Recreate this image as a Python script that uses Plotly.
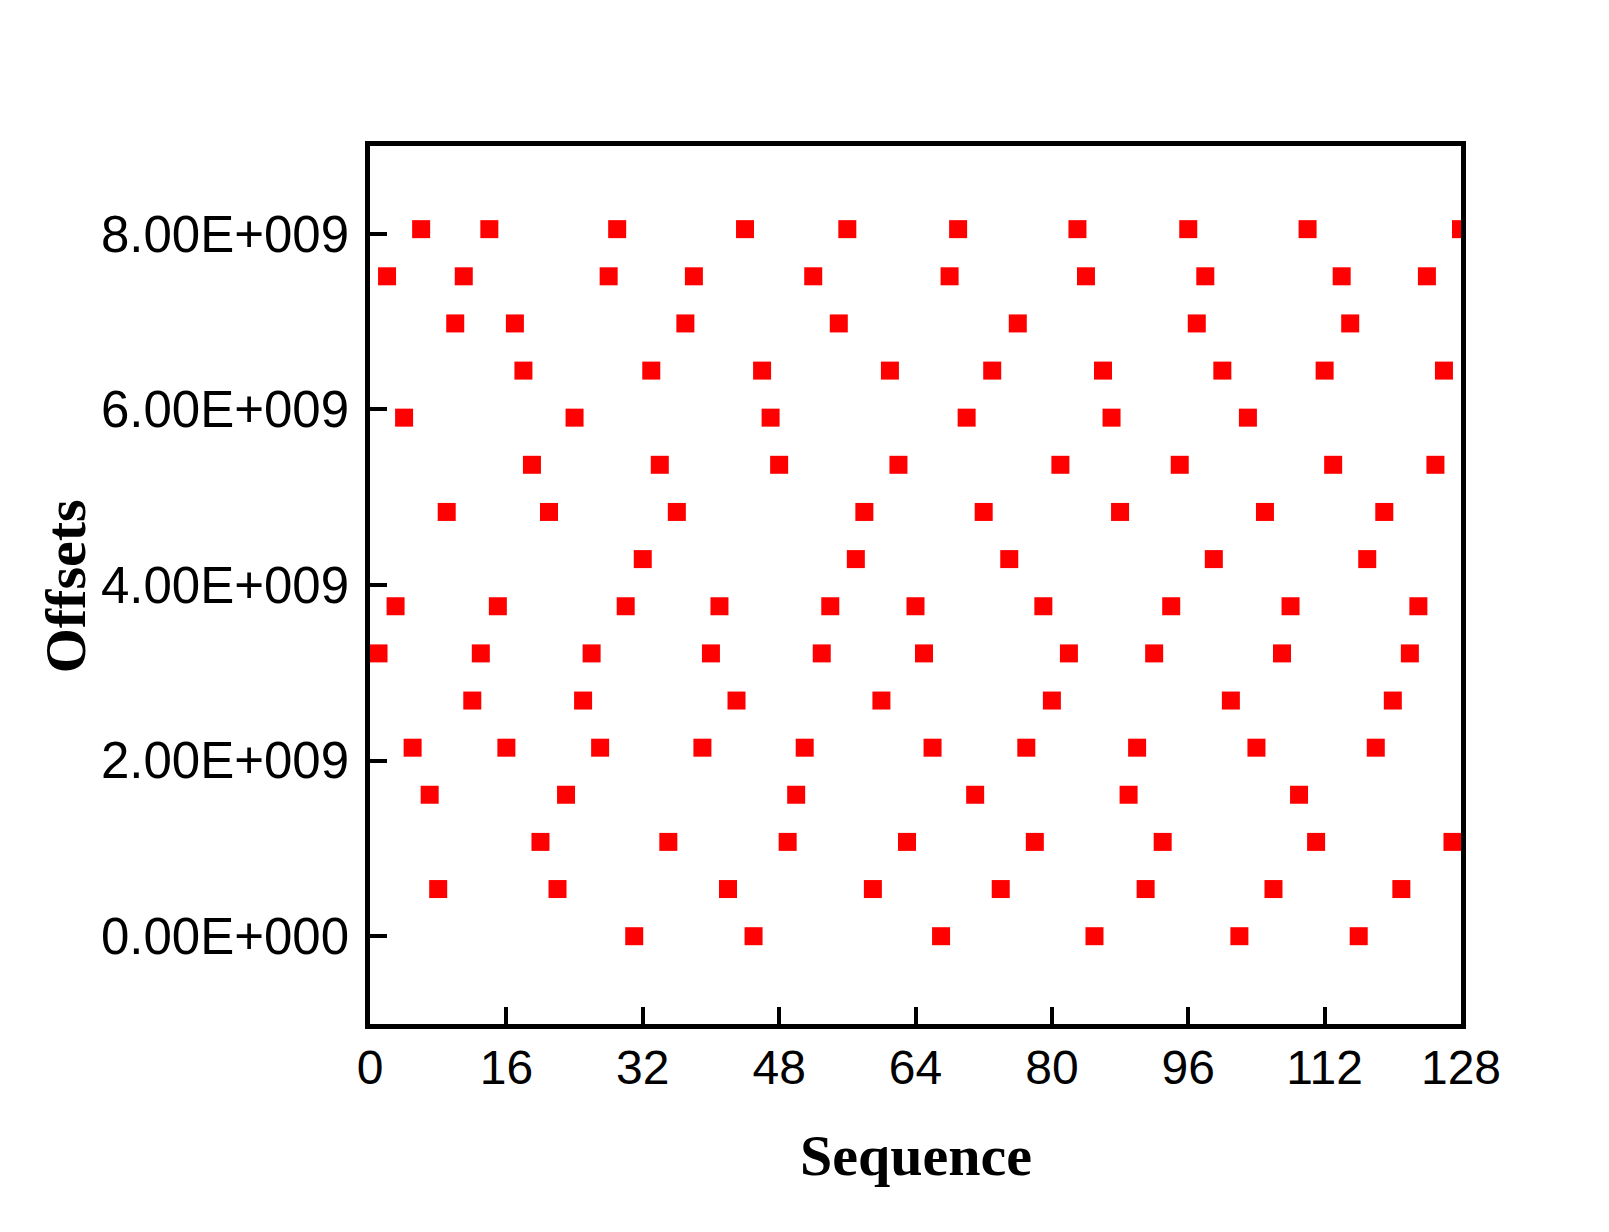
import plotly.graph_objects as go

sequence = list(range(1, 129))
offsets = [
    3.221e9, 7.516e9, 3.758e9, 5.906e9, 2.147e9, 8.053e9, 1.611e9, 0.537e9,
    4.832e9, 6.979e9, 7.516e9, 2.684e9, 3.221e9, 8.053e9, 3.758e9, 2.147e9,
    6.979e9, 6.442e9, 5.369e9, 1.074e9, 4.832e9, 0.537e9, 1.611e9, 5.906e9,
    2.684e9, 3.221e9, 2.147e9, 7.516e9, 8.053e9, 3.758e9, 0.0, 4.295e9,
    6.442e9, 5.369e9, 1.074e9, 4.832e9, 6.979e9, 7.516e9, 2.147e9, 3.221e9,
    3.758e9, 0.537e9, 2.684e9, 8.053e9, 0.0, 6.442e9, 5.906e9, 5.369e9,
    1.074e9, 1.611e9, 2.147e9, 7.516e9, 3.221e9, 3.758e9, 6.979e9, 8.053e9,
    4.295e9, 4.832e9, 0.537e9, 2.684e9, 6.442e9, 5.369e9, 1.074e9, 3.758e9,
    3.221e9, 2.147e9, 0.0, 7.516e9, 8.053e9, 5.906e9, 1.611e9, 4.832e9,
    6.442e9, 0.537e9, 4.295e9, 6.979e9, 2.147e9, 1.074e9, 3.758e9, 2.684e9,
    5.369e9, 3.221e9, 8.053e9, 7.516e9, 0.0, 6.442e9, 5.906e9, 4.832e9,
    1.611e9, 2.147e9, 0.537e9, 3.221e9, 1.074e9, 3.758e9, 5.369e9, 8.053e9,
    6.979e9, 7.516e9, 4.295e9, 6.442e9, 2.684e9, 0.0, 5.906e9, 2.147e9,
    4.832e9, 0.537e9, 3.221e9, 3.758e9, 1.611e9, 8.053e9, 1.074e9, 6.442e9,
    5.369e9, 7.516e9, 6.979e9, 0.0, 4.295e9, 2.147e9, 4.832e9, 2.684e9,
    0.537e9, 3.221e9, 3.758e9, 7.516e9, 5.369e9, 6.442e9, 1.074e9, 8.053e9,
]

x_ticks = [0, 16, 32, 48, 64, 80, 96, 112, 128]
y_ticks = [0, 2e9, 4e9, 6e9, 8e9]
y_tick_text = ["0.00E+000", "2.00E+009", "4.00E+009", "6.00E+009", "8.00E+009"]

x_tick_font = dict(family="Liberation Sans, Arial", size=48, color="black")
y_tick_font = dict(family="Liberation Sans, Arial", size=51, color="black")
title_font = dict(family="Liberation Serif, Times New Roman, serif", size=58, color="black")

fig = go.Figure()
fig.add_trace(go.Scatter(
    x=sequence, y=offsets, mode="markers",
    marker=dict(symbol="square", size=18, color="#ff0000", line=dict(width=0)),
    cliponaxis=True,
))

fig.update_layout(
    width=1609, height=1232,
    margin=dict(l=370, r=148, t=146, b=208),
    paper_bgcolor="white", plot_bgcolor="white",
    showlegend=False,
)
fig.update_xaxes(
    range=[0, 128], tickvals=x_ticks, ticktext=[str(v) for v in x_ticks],
    showgrid=False, zeroline=False,
    showline=True, linecolor="black", linewidth=4.5, mirror=True,
    ticks="inside", ticklen=17, tickwidth=4, tickcolor="black",
    tickfont=x_tick_font, ticklabelstandoff=-2,
)
fig.update_yaxes(
    range=[-1e9, 9e9], tickvals=y_ticks, ticktext=y_tick_text,
    showgrid=False, zeroline=False,
    showline=True, linecolor="black", linewidth=4.5, mirror=True,
    ticks="inside", ticklen=17, tickwidth=4, tickcolor="black",
    tickfont=y_tick_font, ticklabelstandoff=6,
)
fig.add_annotation(text="<b>Sequence</b>", xref="paper", yref="paper",
                   x=0.5, y=-0.15, showarrow=False, font=title_font,
                   xanchor="center", yanchor="middle")
fig.add_annotation(text="<b>Offsets</b>", xref="paper", yref="paper",
                   x=-0.279, y=0.498, showarrow=False, font=title_font,
                   textangle=-90, xanchor="center", yanchor="middle")

fig.write_html("out.html")
